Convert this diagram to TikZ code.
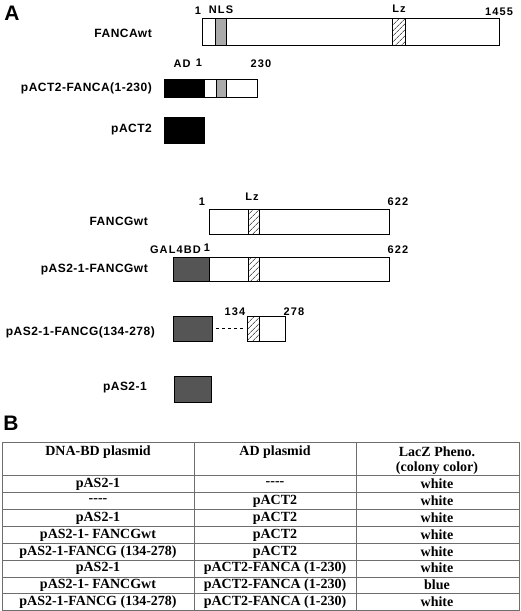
\documentclass[tikz,border=0pt]{standalone}
\usepackage{fontspec}
\setmainfont{Liberation Serif}
\newfontfamily\hv[LetterSpace=4]{Liberation Sans}
\newfontfamily\hvnum[LetterSpace=10]{Liberation Sans}
\newfontfamily\hvpanel{Liberation Sans}
\usetikzlibrary{patterns.meta}
\definecolor{bdgray}{RGB}{85,85,85}
\definecolor{nlsgray}{RGB}{170,170,170}
\definecolor{tabline}{RGB}{110,110,110}
\begin{document}
\begin{tikzpicture}[x=1pt,y=-1pt,
 lab/.style={font=\hv\bfseries\fontsize{12}{14}\selectfont, inner sep=0pt, anchor=east},
 num/.style={font=\hvnum\bfseries\fontsize{11}{13}\selectfont, inner sep=0pt},
 panel/.style={font=\hvpanel\bfseries\fontsize{21}{23}\selectfont, inner sep=0pt},
 bar/.style={draw=black, line width=0.7pt, fill=white},
 adbox/.style={draw=black, line width=0.7pt, fill=black},
 bdbox/.style={draw=black, line width=0.9pt, fill=bdgray},
 nls/.style={draw=black, line width=0.6pt, fill=nlsgray},
 lz/.style={draw=black, line width=0.6pt, pattern={Lines[angle=45,distance=4pt,line width=0.6pt]}},
 boxnode/.style={inner sep=0pt, outer sep=0pt, anchor=north west},
 cell/.style={font=\bfseries\fontsize{14}{16}\selectfont, inner sep=0pt},
 tab/.style={draw=tabline, line width=0.8pt},
]
\useasboundingbox (0,0) rectangle (520,611);

% panel letters
\node[panel] (pA) at (12,13) {A};
\node[panel] (pB) at (11,423) {B};

% FANCAwt
\draw[bar] (202,18) rectangle (499,45);
\draw[nls] (215,18) rectangle (226,45);
\draw[lz] (392,18) rectangle (405,45);
\node[lab] (lFA) at (152,33) {FANCAwt};
\node[num] (n1a) at (198,11) {1};
\node[num] (nNLS) at (221,10) {NLS};
\node[num] (nLz1) at (399,9) {Lz};
\node[num] (n1455) at (499,12) {1455};

% pACT2-FANCA(1-230)
\draw[adbox] (164,79) rectangle (204,97);
\draw[bar] (204,79) rectangle (257,97);
\draw[nls] (216,79) rectangle (226,97);
\node[lab] (lPF) at (152,88) {pACT2-FANCA(1-230)};
\node[num] (nAD) at (182,64) {AD};
\node[num] (n1b) at (199,63) {1};
\node[num] (n230) at (261,64) {230};

% pACT2
\draw[adbox] (164,117) rectangle (204,143);
\node[lab] (lP) at (152,130) {pACT2};

% FANCGwt
\draw[bar] (209,209) rectangle (389,234);
\draw[lz] (248,209) rectangle (259,234);
\node[lab] (lFG) at (148,221) {FANCGwt};
\node[num] (n1c) at (202,202) {1};
\node[num] (nLz2) at (252,197) {Lz};
\node[num] (n622a) at (398,202) {622};

% pAS2-1-FANCGwt
\draw[bdbox] (173,257) rectangle (209,281);
\draw[bar] (209,257) rectangle (389,281);
\draw[lz] (248,257) rectangle (259,281);
\node[lab] (lAG) at (148,270) {pAS2-1-FANCGwt};
\node[num, anchor=east] (nGAL) at (201,250) {GAL4BD};
\node[num] (n1d) at (207,248) {1};
\node[num] (n622b) at (398,250) {622};

% pAS2-1-FANCG(134-278)
\node[boxnode, bdbox, minimum width=39pt, minimum height=25pt] (g3) at (173,316) {};
\node[boxnode, bar, minimum width=38pt, minimum height=25pt] (w3) at (247,316) {};
\draw[lz] (247,316) rectangle (259,341);
\draw[dashed, line width=0.6pt, dash pattern=on 3pt off 3pt, shorten <=4pt, shorten >=2pt] (g3.east) -- (w3.west);
\node[lab] (lAF) at (155,332) {pAS2-1-FANCG(134-278)};
\node[num] (n134) at (235,312) {134};
\node[num] (n278) at (294,312) {278};

% pAS2-1
\draw[bdbox] (174,376) rectangle (211,402);
\node[lab] (lA) at (147,388) {pAS2-1};

% table
\draw[tab] (2,442) rectangle (519,610);
\foreach \yy in {475,492,509,526,543,560,577,593} \draw[tab] (2,\yy) -- (519,\yy);
\draw[tab] (194,442) -- (194,610);
\draw[tab] (356,442) -- (356,610);

\node[cell] (h1) at (98,452) {DNA-BD plasmid};
\node[cell] (h2) at (275,452) {AD plasmid};
\node[cell] (h3a) at (437,452) {LacZ Pheno.};
\node[cell] (h3b) at (437,468) {(colony color)};

\node[cell] (r1a) at (98,484) {pAS2-1};
\node[cell] (r1b) at (275,484) {-{}-{}-{}-};
\node[cell] (r1c) at (437,484) {white};
\node[cell] (r2a) at (98,501) {-{}-{}-{}-};
\node[cell] (r2b) at (275,501) {pACT2};
\node[cell] (r2c) at (437,501) {white};
\node[cell] (r3a) at (98,518) {pAS2-1};
\node[cell] (r3b) at (275,518) {pACT2};
\node[cell] (r3c) at (437,518) {white};
\node[cell] (r4a) at (98,535) {pAS2-1- FANCGwt};
\node[cell] (r4b) at (275,535) {pACT2};
\node[cell] (r4c) at (437,535) {white};
\node[cell] (r5a) at (98,552) {pAS2-1-FANCG (134-278)};
\node[cell] (r5b) at (275,552) {pACT2};
\node[cell] (r5c) at (437,552) {white};
\node[cell] (r6a) at (98,568) {pAS2-1};
\node[cell] (r6b) at (275,568) {pACT2-FANCA (1-230)};
\node[cell] (r6c) at (437,568) {white};
\node[cell] (r7a) at (98,585) {pAS2-1- FANCGwt};
\node[cell] (r7b) at (275,585) {pACT2-FANCA (1-230)};
\node[cell] (r7c) at (437,585) {blue};
\node[cell] (r8a) at (98,602) {pAS2-1-FANCG (134-278)};
\node[cell] (r8b) at (275,602) {pACT2-FANCA (1-230)};
\node[cell] (r8c) at (437,602) {white};
\end{tikzpicture}
\end{document}
